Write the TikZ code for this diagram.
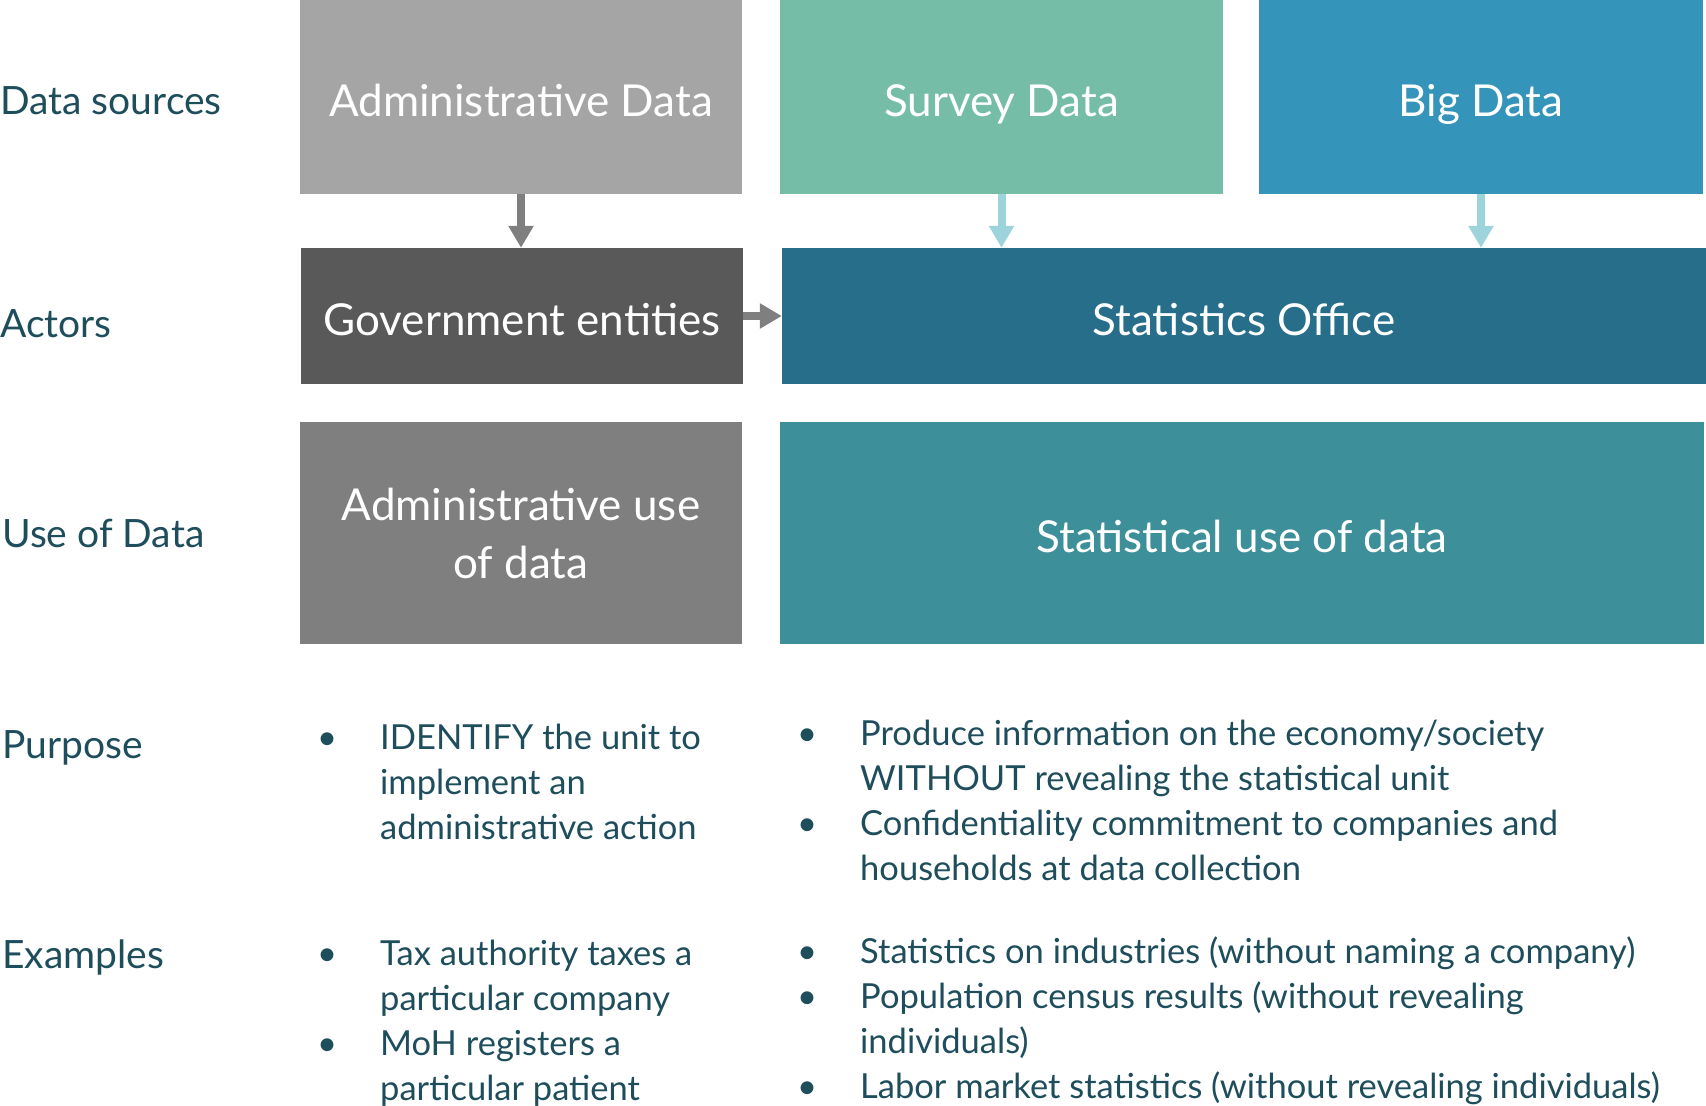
\documentclass[tikz,border=0pt]{standalone}
\usepackage{fontspec}
\setmainfont{Lato}
\usetikzlibrary{arrows.meta}
\definecolor{cAdm}{HTML}{A5A5A5}
\definecolor{cSur}{HTML}{75BDA7}
\definecolor{cBig}{HTML}{3494BA}
\definecolor{cGov}{HTML}{595959}
\definecolor{cSta}{HTML}{276E8B}
\definecolor{cAdu}{HTML}{7F7F7F}
\definecolor{cStu}{HTML}{3D8F99}
\definecolor{cArG}{HTML}{7F7F7F}
\definecolor{cArL}{HTML}{9DD3DA}
\definecolor{cTxt}{HTML}{1E4D5C}
\begin{document}
\begin{tikzpicture}[x=1pt,y=-1pt,
  box/.style={rectangle, inner sep=0pt, text=white, align=center,
    font=\fontsize{44}{58}\selectfont},
  oneline/.style={text height=38pt, text depth=0pt},
  lab/.style={anchor=base west, inner sep=0pt, text=cTxt,
    font=\fontsize{39}{45}\selectfont},
  bul/.style={anchor=base west, inner sep=0pt, text=cTxt,
    font=\fontsize{34.5}{45}\selectfont},
  item/.style={anchor=base west, inner sep=0pt, text=cTxt, align=left,
    font=\fontsize{34.5}{45}\selectfont},
  arrG/.style={draw=cArG, line width=8pt, -{Triangle[width=24pt,length=22pt]}},
  arrL/.style={draw=cArL, line width=8pt, -{Triangle[width=24pt,length=22pt]}}
]
\useasboundingbox (0,0) rectangle (1706,1106);

% row 1
\node[box, oneline, fill=cAdm, minimum width=442pt, minimum height=194pt] (adm) at (521,97) {Administrative Data};
\node[box, oneline, fill=cSur, minimum width=443pt, minimum height=194pt] (sur) at (1001.5,97) {Survey Data};
\node[box, oneline, fill=cBig, minimum width=444pt, minimum height=194pt] (big) at (1481,97) {Big Data};
% row 2
\node[box, oneline, fill=cGov, minimum width=442pt, minimum height=136pt] (gov) at (522,316) {Government entities};
\node[box, oneline, fill=cSta, minimum width=924pt, minimum height=136pt] (sta) at (1244,316) {Statistics Office};
% row 3
\node[box, text depth=-6.5pt, fill=cAdu, minimum width=442pt, minimum height=222pt] (adu) at (521,533) {Administrative use\\of data};
\node[box, oneline, fill=cStu, minimum width=924pt, minimum height=222pt] (stu) at (1242,533) {Statistical use of data};

% arrows
\draw[arrG] (adm.south) -- (adm.south |- gov.north);
\draw[arrL] (sur.south) -- (sur.south |- sta.north);
\draw[arrL] (big.south) -- (big.south |- sta.north);
\draw[arrG] (gov.east) -- (sta.west);

% row labels
\node[lab] (l1) at (0,114) {Data sources};
\node[lab] (l2) at (0,337) {Actors};
\node[lab] (l3) at (2,547) {Use of Data};
\node[lab] (l4) at (2,758) {Purpose};
\node[lab] (l5) at (2,968) {Examples};

% purpose left (base anchor = last line)
\node[bul] (pb1) at (317,749) {•};
\node[item] (pt1) at (380,839) {IDENTIFY the unit to\\implement an\\administrative action};
% purpose right
\node[bul] (pb2) at (797,745) {•};
\node[item] (pt2) at (860,790) {Produce information on the economy/society\\WITHOUT revealing the statistical unit};
\node[bul] (pb3) at (797,835) {•};
\node[item] (pt3) at (860,880) {Confidentiality commitment to companies and\\households at data collection};

% examples left
\node[bul] (eb1) at (317,965) {•};
\node[item] (et1) at (380,1010) {Tax authority taxes a\\particular company};
\node[bul] (eb2) at (317,1055) {•};
\node[item] (et2) at (380,1100) {MoH registers a\\particular patient};
% examples right
\node[bul] (eb3) at (797,963) {•};
\node[item] (et3) at (860,963) {Statistics on industries (without naming a company)};
\node[bul] (eb4) at (797,1008) {•};
\node[item] (et4) at (860,1053) {Population census results (without revealing\\individuals)};
\node[bul] (eb5) at (797,1098) {•};
\node[item] (et5) at (860,1098) {Labor market statistics (without revealing individuals)};
\end{tikzpicture}
\end{document}
